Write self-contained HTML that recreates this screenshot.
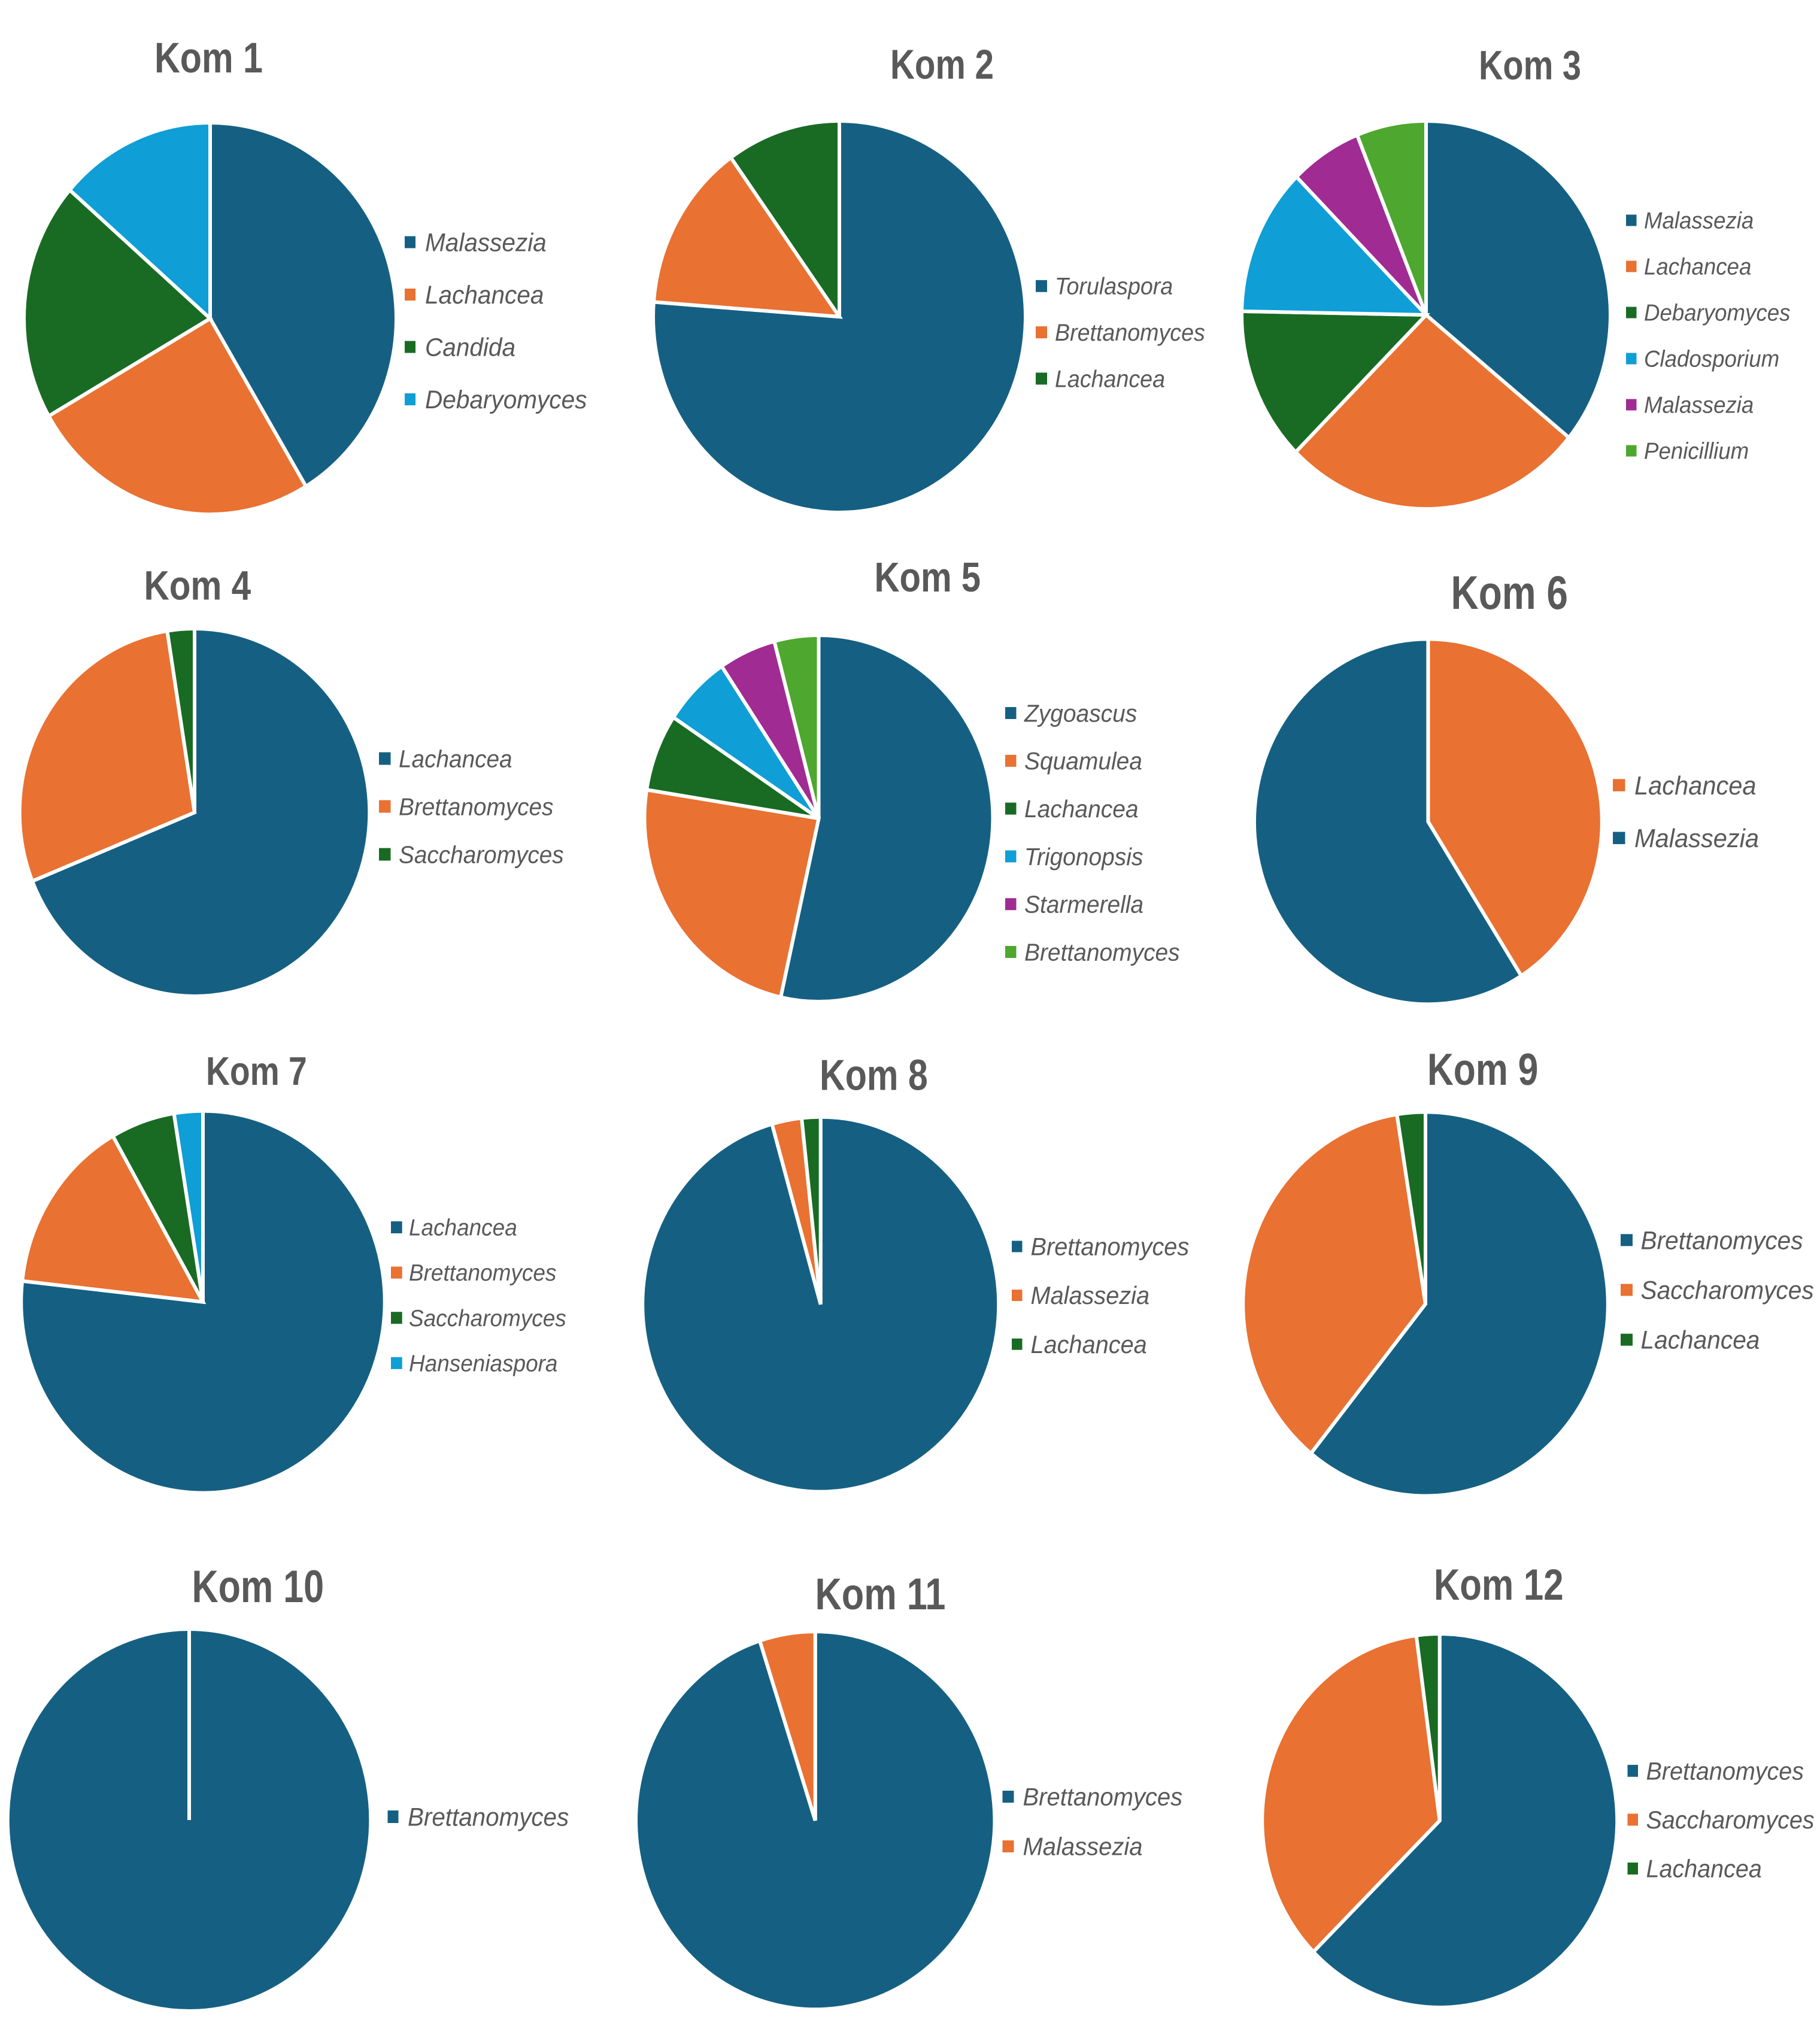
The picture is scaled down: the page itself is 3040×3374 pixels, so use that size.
<!DOCTYPE html>
<html lang="en">
<head>
<meta charset="utf-8">
<title>Kom pie charts</title>
<style>
  html, body { margin: 0; padding: 0; background: #ffffff; }
  #chart-sheet { display: block; width: 3040px; height: 3374px; background: #ffffff; }
  .chart-title { font-family: "Liberation Sans", sans-serif; font-weight: 700; fill: #595959; }
  .legend-label { font-family: "Liberation Sans", sans-serif; font-style: italic; fill: #595959; }
</style>
</head>
<body>
<svg id="chart-sheet" xmlns="http://www.w3.org/2000/svg" width="3040" height="3374" viewBox="0 0 3040 3374"></svg>
<script>
// ---- data: categories and estimated shares (percent) ----
const chartTitles = ["Kom 1","Kom 2","Kom 3","Kom 4","Kom 5","Kom 6","Kom 7","Kom 8","Kom 9","Kom 10","Kom 11","Kom 12"];

const kom1Labels = ["Malassezia","Lachancea","Candida","Debaryomyces"];
const kom1Values = [41.4,25.3,19.7,13.6];
const kom2Labels = ["Torulaspora","Brettanomyces","Lachancea"];
const kom2Values = [76.2,13.9,9.9];
const kom3Labels = ["Malassezia","Lachancea","Debaryomyces","Cladosporium","Malassezia","Penicillium"];
const kom3Values = [35.9,26.6,12.8,12.3,6.3,6.1];
const kom4Labels = ["Lachancea","Brettanomyces","Saccharomyces"];
const kom4Values = [68.9,28.6,2.5];
const kom5Labels = ["Zygoascus","Squamulea","Lachancea","Trigonopsis","Starmerella","Brettanomyces"];
const kom5Values = [53.5,24,6.8,6.3,5.3,4.1];
const kom6Labels = ["Lachancea","Malassezia"];
const kom6Values = [41,59];
const kom7Labels = ["Lachancea","Brettanomyces","Saccharomyces","Hanseniaspora"];
const kom7Values = [76.75,15,5.7,2.55];
const kom8Labels = ["Brettanomyces","Malassezia","Lachancea"];
const kom8Values = [95.6,2.7,1.7];
const kom9Labels = ["Brettanomyces","Saccharomyces","Lachancea"];
const kom9Values = [60.8,36.7,2.5];
const kom10Labels = ["Brettanomyces"];
const kom10Values = [100];
const kom11Labels = ["Brettanomyces","Malassezia"];
const kom11Values = [95,5];
const kom12Labels = ["Brettanomyces","Saccharomyces","Lachancea"];
const kom12Values = [62.6,35.3,2.1];

const allLabels = [kom1Labels,kom2Labels,kom3Labels,kom4Labels,kom5Labels,kom6Labels,kom7Labels,kom8Labels,kom9Labels,kom10Labels,kom11Labels,kom12Labels];
const allValues = [kom1Values,kom2Values,kom3Values,kom4Values,kom5Values,kom6Values,kom7Values,kom8Values,kom9Values,kom10Values,kom11Values,kom12Values];

// ---- style ----
const palette = ["#156082","#E97132","#196B24","#0F9ED5","#A02B93","#4EA72E"];
const colorOrders = {5:[1,0]};
const legendXScale = 0.95;
const sliceGap = 6;

// ---- layout: pie frame, title box and legend box per panel ----
const pieFrames = [
  [351,532,308,324],[1402,529,308,324],[2382,526,305,321],
  [325,1357,289.3,304],[1367.5,1367,288,303],[2385.4,1372.4,287.4,302],
  [339,2174.6,300.7,316],[1370.7,2178.6,294.5,310],[2381,2178,301.8,317.6],
  [316,3040,300.3,316],[1361.7,3040.7,296.7,312.6],[2404.7,3041,293.5,309]
];
const titleBoxes = [
  [258,181,121,71],[1487,173,131.6,70],[2470,171,132.7,69],
  [240.5,178.6,1001.5,69],[1460.5,177.6,988.2,70],[2423.5,195.5,1017,79],
  [344,168.7,1812,67],[1369,180.7,1820.6,72],[2384,185.3,1812,75],
  [320.5,220.6,2675.8,76],[1361.5,218,2687.8,74],[2395,216.6,2672.2,73.5]
];
// swatchX, swatchW, swatchH, textX, firstY, stepY, fontSize
const legendBoxes = [
  [676,18,20,710,404.5,87.5,42.7],
  [1730,19,20,1762,477.8,77.3,39.6],
  [2716,17.5,19,2746,368,77,38.6],
  [633,19.5,21,666,1267,80,40.8],
  [1679,18.5,20,1711,1191,79.8,41],
  [2694,20.5,20.5,2730,1311.5,88.2,43.8],
  [653,18.7,20,683,2050,75.6,38.9],
  [1690,17.5,19,1721.5,2082,81.6,41.8],
  [2707,20,20,2740.5,2071.3,83.2,42.8],
  [647.5,18,21,681,3034.5,0,42.5],
  [1674.5,19,20,1708.5,3001,83,42.1],
  [2718.5,17.5,20,2749.5,2957.8,81.6,41.6]
];

const SVG_NS = "http://www.w3.org/2000/svg";
const sheet = document.getElementById("chart-sheet");

function make(tag, attrs, parent) {
  const node = document.createElementNS(SVG_NS, tag);
  for (const key in attrs) node.setAttribute(key, attrs[key]);
  parent.appendChild(node);
  return node;
}

// axis function: cumulative share -> point on the pie's ellipse (clockwise from 12 o'clock)
function shareToPoint(frame, share) {
  const a = share * 2 * Math.PI;
  const rx = frame[2] + sliceGap / 2;
  const ry = frame[3] + sliceGap / 2;
  return [frame[0] + rx * Math.sin(a), frame[1] - ry * Math.cos(a)];
}

function slicePath(frame, from, to) {
  const rx = frame[2] + sliceGap / 2;
  const ry = frame[3] + sliceGap / 2;
  const start = shareToPoint(frame, from);
  const end = shareToPoint(frame, to);
  if (to - from >= 0.9999) {
    const mid = shareToPoint(frame, from + 0.5);
    return "M" + frame[0] + " " + frame[1] + "L" + start[0] + " " + start[1] +
      "A" + rx + " " + ry + " 0 0 1 " + mid[0] + " " + mid[1] +
      "A" + rx + " " + ry + " 0 0 1 " + start[0] + " " + start[1] + "Z";
  }
  const large = to - from > 0.5 ? 1 : 0;
  return "M" + frame[0] + " " + frame[1] + "L" + start[0] + " " + start[1] +
    "A" + rx + " " + ry + " 0 " + large + " 1 " + end[0] + " " + end[1] + "Z";
}

chartTitles.forEach(function (title, i) {
  const panel = make("g", {}, sheet);
  
  

  const tb = titleBoxes[i];
  const titleEl = make("text", {
    "class": "chart-title", x: tb[0], y: tb[2], "font-size": tb[3],
    textLength: tb[1], lengthAdjust: "spacingAndGlyphs"
  }, panel);
  titleEl.textContent = title;
  
  

  const values = allValues[i];
  const labels = allLabels[i];
  const order = colorOrders[i] || palette.map(function (_, k) { return k; });
  const total = values.reduce(function (s, v) { return s + v; }, 0);
  const frame = pieFrames[i];

  let running = 0;
  values.forEach(function (value, k) {
    const from = running / total;
    running += value;
    const to = running / total;
    const slice = make("path", {
      d: slicePath(frame, from, to),
      fill: palette[order[k]],
      stroke: "#ffffff",
      "stroke-width": sliceGap,
      "stroke-miterlimit": 3
    }, panel);
    
    
  });

  const lb = legendBoxes[i];
  labels.forEach(function (label, k) {
    const cy = lb[4] + k * lb[5];
    const entry = make("g", {}, panel);
    
    

    const swatch = make("rect", {
      x: lb[0], y: cy - lb[2] / 2, width: lb[1], height: lb[2],
      fill: palette[order[k]]
    }, entry);
    
    

    const text = make("text", {
      "class": "legend-label", "font-size": lb[6],
      transform: "translate(" + lb[3] + " " + (cy + lb[6] * 0.35) + ") scale(" + legendXScale + " 1)"
    }, entry);
    text.textContent = label;
    
    
  });
});
</script>
</body>
</html>
